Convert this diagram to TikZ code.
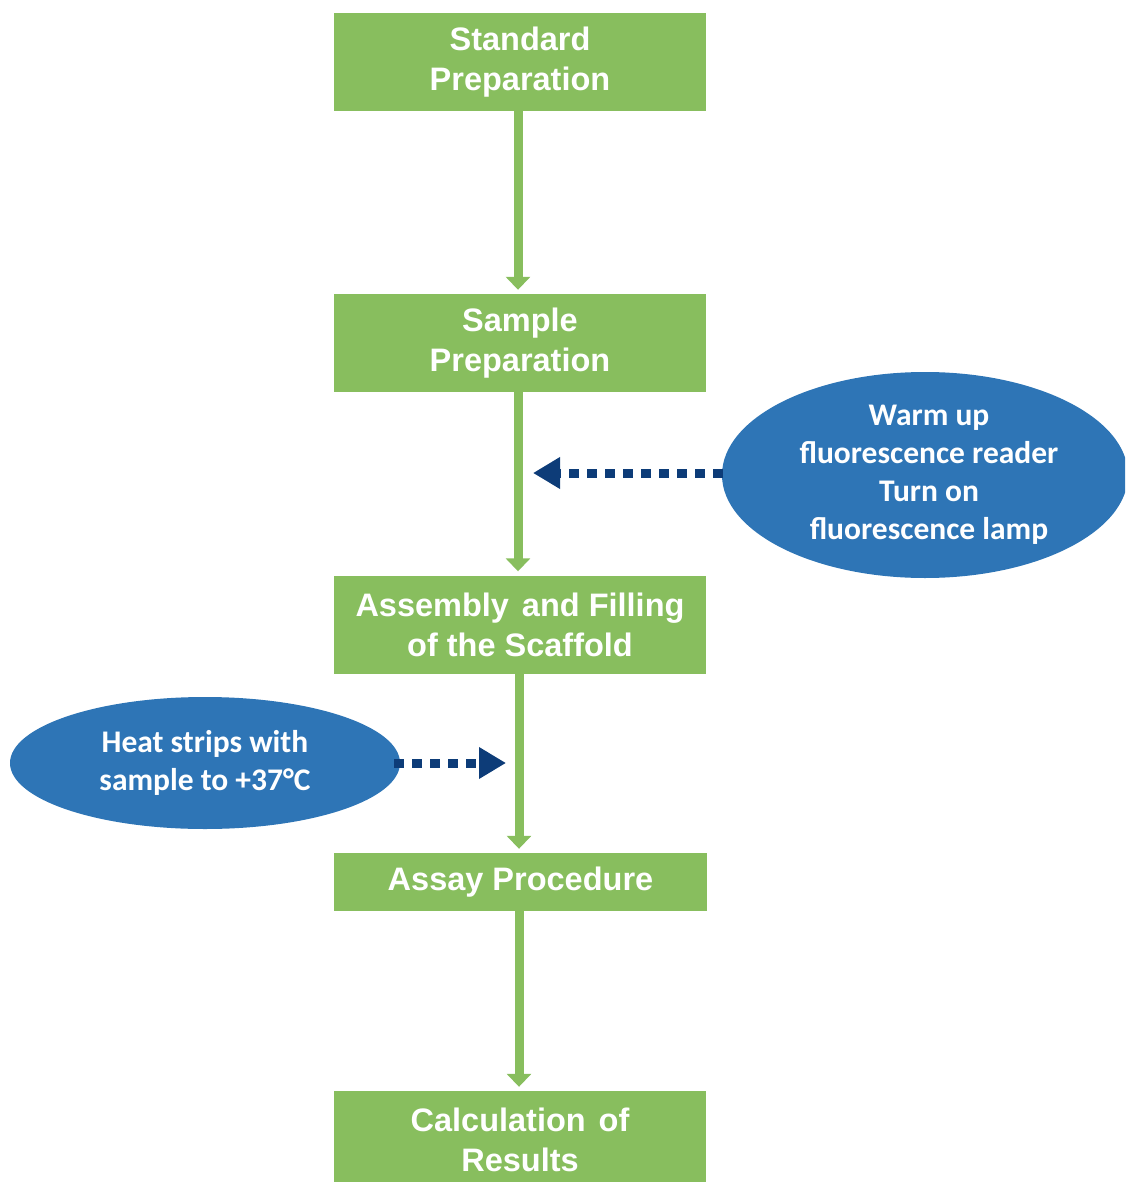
\documentclass[tikz,border=0pt]{standalone}
\usepackage{fontspec}
\usetikzlibrary{shapes.geometric,arrows.meta}
\newfontfamily\boxfont{Liberation Sans}
\newfontfamily\ellfont{Carlito}
\definecolor{stepgreen}{HTML}{88BE5E}
\definecolor{ellblue}{HTML}{2E75B6}
\definecolor{darkarrow}{HTML}{0D3C78}
\tikzset{
  stepbox/.style={rectangle, fill=stepgreen, draw=none, minimum width=372pt, minimum height=98pt, inner sep=0pt, align=center, text=white, font=\boxfont\bfseries\fontsize{32.5}{40}\selectfont},
  elltext/.style={inner sep=0pt, align=center, text=white, font=\ellfont\bfseries\fontsize{31.5}{38}\selectfont},
  ellnode/.style={ellipse, fill=ellblue, draw=none, elltext},
  garrow/.style={draw=stepgreen, line width=9pt, shorten >=4pt, -{Triangle[length=13pt,width=24pt]}},
  darrow/.style={draw=darkarrow, line width=9pt, dash pattern=on 10pt off 8pt, -{Triangle[length=27pt,width=30pt]}}
}
\begin{document}
\begin{tikzpicture}[x=1pt,y=1pt]
\useasboundingbox (0,0) rectangle (1125,-1182);
\clip (0,0) rectangle (1125,-1182);
\node[stepbox] (s1) at (520,-62) {Standard\\Preparation};
\node[stepbox] (s2) at (520,-343) {Sample\\Preparation};
\node[stepbox] (s3) at (520,-624.5) {Assembly\hspace{0.12em} and Filling\\of the Scaffold};
\node[stepbox, minimum height=58pt, minimum width=373pt] (s4) at (520.5,-882) {Assay Procedure};
\node[stepbox] (s5) at (520,-1140) {Calculation\hspace{0.12em} of\\Results};
\node[ellnode, minimum width=406pt, minimum height=206pt] (e1) at (925,-475) {};
\node[elltext] (e1t) at (929,-475) {Warm up\\fluorescence reader\\Turn on\\fluorescence lamp};
\node[ellnode, minimum width=390pt, minimum height=132pt] (e2) at (205,-763) {Heat strips with\\sample to +37°C};
\coordinate (t1) at (533,-473);
\coordinate (t2) at (506,-763);
\draw[garrow] ([xshift=-2pt]s1.south) -- ([xshift=-2pt]s2.north);
\draw[garrow] ([xshift=-2pt]s2.south) -- ([xshift=-2pt]s3.north);
\draw[garrow] ([xshift=-1pt]s3.south) -- ([xshift=-1.5pt]s4.north);
\draw[garrow] ([xshift=-1.5pt]s4.south) -- ([xshift=-1pt]s5.north);
\draw[darrow] ([xshift=1pt]e1.west |- t1) -- (t1);
\draw[darrow] ([xshift=-6pt]e2.east) -- (t2);
\end{tikzpicture}
\end{document}
